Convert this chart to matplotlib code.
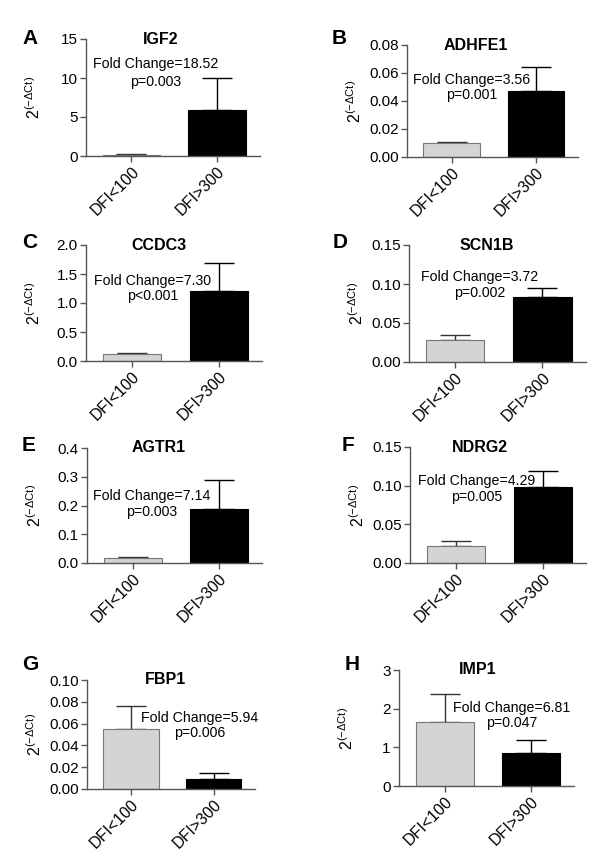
import matplotlib
matplotlib.use("Agg")
import matplotlib.pyplot as plt

plt.rcParams["font.family"] = ["Liberation Sans", "DejaVu Sans"]
plt.rcParams["mathtext.fontset"] = "custom"
plt.rcParams["mathtext.rm"] = "Liberation Sans"
plt.rcParams["mathtext.it"] = "Liberation Sans"

# data
letters = ["A", "B", "C", "D", "E", "F", "G", "H"]
genes = ["IGF2", "ADHFE1", "CCDC3", "SCN1B", "AGTR1", "NDRG2", "FBP1", "IMP1"]
groups = ["DFI<100", "DFI>300"]
low_mean = [0.15, 0.0098, 0.115, 0.028, 0.016, 0.022, 0.055, 1.66]
low_err = [0.08, 0.0012, 0.028, 0.007, 0.006, 0.006, 0.021, 0.73]
high_mean = [5.9, 0.0474, 1.207, 0.083, 0.188, 0.098, 0.0093, 0.845]
high_err = [4.15, 0.0171, 0.49, 0.012, 0.101, 0.021, 0.0052, 0.355]
fold = ["18.52", "3.56", "7.30", "3.72", "7.14", "4.29", "5.94", "6.81"]
pvals = ["p=0.003", "p=0.001", "p<0.001", "p=0.002", "p=0.003", "p=0.005", "p=0.006", "p=0.047"]
yticks = [
    ["0", "5", "10", "15"],
    ["0.00", "0.02", "0.04", "0.06", "0.08"],
    ["0.0", "0.5", "1.0", "1.5", "2.0"],
    ["0.00", "0.05", "0.10", "0.15"],
    ["0.0", "0.1", "0.2", "0.3", "0.4"],
    ["0.00", "0.05", "0.10", "0.15"],
    ["0.00", "0.02", "0.04", "0.06", "0.08", "0.10"],
    ["0", "1", "2", "3"],
]

# layout in pixels: left, top, right, bottom of each axes
boxes = [
    (86, 39, 260, 156), (407, 45, 578, 157),
    (86, 245, 262, 361), (409, 245, 586, 362),
    (87, 448, 262, 563), (410, 447, 586, 563),
    (87, 680, 255, 789), (399, 670, 574, 786),
]
text_pos = [(0.40, 0.79, 0.63), (0.38, 0.69, 0.55), (0.38, 0.69, 0.56), (0.40, 0.73, 0.59),
            (0.37, 0.58, 0.44), (0.38, 0.71, 0.57), (0.67, 0.65, 0.51), (0.645, 0.675, 0.54)]
title_x = [0.43, 0.40, 0.415, 0.44, 0.41, 0.40, 0.47, 0.45]
label_pos = [(22, 38), (332, 38), (22, 242), (333, 242), (22, 445), (342, 445), (22, 665), (345, 665)]

W, H = 600, 857
fig = plt.figure(figsize=(6, 8.57), dpi=100)
spine_c = "#555555"

for i in range(8):
    l, t, r, b = boxes[i]
    ax = fig.add_axes([l / W, 1 - b / H, (r - l) / W, (b - t) / H])
    ax.bar([0], [low_mean[i]], width=0.67, color="#d4d4d4", edgecolor="#777777", linewidth=0.8, zorder=2)
    ax.bar([1], [high_mean[i]], width=0.67, color="black", edgecolor="black", linewidth=0.8, zorder=2)
    ax.errorbar([0], [low_mean[i]], yerr=[[0], [low_err[i]]], fmt="none", ecolor="#333333",
                elinewidth=1, capsize=11, capthick=1, zorder=1)
    ax.errorbar([1], [high_mean[i]], yerr=[[0], [high_err[i]]], fmt="none", ecolor="black",
                elinewidth=1, capsize=11, capthick=1, zorder=1)
    ticks = [float(v) for v in yticks[i]]
    ax.set_yticks(ticks)
    ax.set_yticklabels(yticks[i], fontsize=11)
    ax.set_ylim(0, ticks[-1])
    ax.set_xlim(-0.53, 1.5)
    ax.set_xticks([0, 1])
    ax.set_xticklabels(groups, rotation=45, ha="right", rotation_mode="anchor", fontsize=11.5)
    for s in ["top", "right"]:
        ax.spines[s].set_visible(False)
    for s in ["left", "bottom"]:
        ax.spines[s].set_color(spine_c)
        ax.spines[s].set_linewidth(1)
    ax.tick_params(color=spine_c, length=4, width=1, direction="out", pad=2)
    ax.set_ylabel(r"$2^{(\mathregular{-\Delta Ct})}$", fontsize=11.5)
    ax.yaxis.set_label_coords(-43 / (r - l), 0.5)
    ax.text(title_x[i], 1.0, genes[i], transform=ax.transAxes, ha="center", va="center",
            fontsize=11.5, fontweight="bold")
    tx, y1, y2 = text_pos[i]
    ax.text(tx, y1, "Fold Change=" + fold[i], transform=ax.transAxes, ha="center", va="center", fontsize=10.2)
    ax.text(tx, y2, pvals[i], transform=ax.transAxes, ha="center", va="center", fontsize=10.2)
    lx, ly = label_pos[i]
    fig.text(lx / W, 1 - ly / H, letters[i], ha="left", va="center", fontsize=15, fontweight="bold")

fig.savefig("out.png", dpi=100, facecolor="white")
